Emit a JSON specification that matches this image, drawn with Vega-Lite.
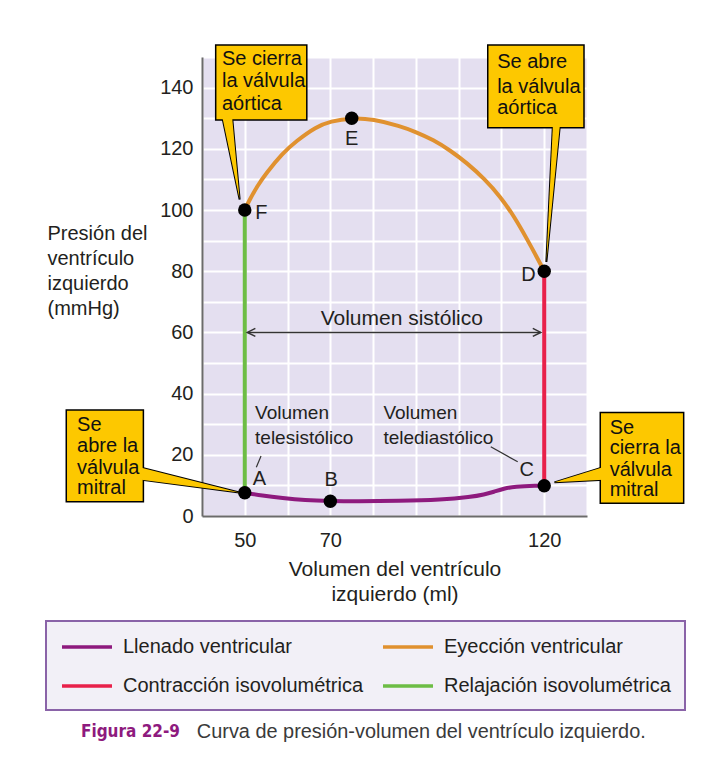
{
  "$schema": "https://vega.github.io/schema/vega-lite/v6.json",
  "width": 385,
  "height": 459,
  "autosize": "none",
  "padding": {"left": 202, "top": 57, "right": 123, "bottom": 247},
  "background": "#ffffff",
  "config": {
    "font": "Liberation Sans",
    "view": {"fill": "#e4dff0", "stroke": null},
    "axis": {
      "domainColor": "#6b6b6b",
      "domainWidth": 2,
      "gridColor": "#ffffff",
      "gridWidth": 2,
      "ticks": false,
      "tickSize": 0,
      "labelFont": "Liberation Sans",
      "labelFontSize": 20,
      "labelColor": "#231f20",
      "titleFont": "Liberation Sans",
      "titleFontWeight": "normal",
      "titleColor": "#231f20"
    }
  },
  "encoding": {
    "x": {
      "field": "x",
      "type": "quantitative",
      "scale": {"domain": [40, 130], "nice": false, "zero": false},
      "axis": {
        "values": [40, 50, 60, 70, 80, 90, 100, 110, 120, 130],
        "labelExpr": "datum.value == 50 || datum.value == 70 || datum.value == 120 ? datum.label : ''",
        "labelPadding": 14,
        "labelFlush": false,
        "labelOverlap": false,
        "title": ["Volumen del ventrículo", "izquierdo (ml)"],
        "titleFontSize": 21,
        "titleLineHeight": 25,
        "titleBaseline": "top",
        "titleY": 42
      }
    },
    "y": {
      "field": "y",
      "type": "quantitative",
      "scale": {"domain": [0, 150], "nice": false, "zero": false},
      "axis": {
        "values": [0, 10, 20, 30, 40, 50, 60, 70, 80, 90, 100, 110, 120, 130, 140, 150],
        "labelExpr": "datum.value % 20 == 0 && datum.value <= 140 ? datum.label : ''",
        "labelPadding": 9,
        "labelFlush": false,
        "labelOverlap": false,
        "title": ["Presión del", "ventrículo", "izquierdo", "(mmHg)"],
        "titleAngle": 0,
        "titleAlign": "left",
        "titleBaseline": "top",
        "titleFontSize": 20,
        "titleLineHeight": 25,
        "titleX": -155,
        "titleY": 166
      }
    }
  },
  "layer": [
    {
      "data": {"values": [
        {"phase": "Llenado ventricular", "o": 1, "x": 50, "y": 7.6},
        {"phase": "Llenado ventricular", "o": 2, "x": 54, "y": 6.7},
        {"phase": "Llenado ventricular", "o": 3, "x": 58.8, "y": 5.9},
        {"phase": "Llenado ventricular", "o": 4, "x": 64, "y": 5.2},
        {"phase": "Llenado ventricular", "o": 5, "x": 70, "y": 4.9},
        {"phase": "Llenado ventricular", "o": 6, "x": 76, "y": 4.8},
        {"phase": "Llenado ventricular", "o": 7, "x": 86, "y": 4.9},
        {"phase": "Llenado ventricular", "o": 8, "x": 96, "y": 5.3},
        {"phase": "Llenado ventricular", "o": 9, "x": 102.8, "y": 6.2},
        {"phase": "Llenado ventricular", "o": 10, "x": 106, "y": 7.0},
        {"phase": "Llenado ventricular", "o": 11, "x": 108.2, "y": 7.9},
        {"phase": "Llenado ventricular", "o": 12, "x": 110.6, "y": 9.0},
        {"phase": "Llenado ventricular", "o": 13, "x": 113, "y": 9.6},
        {"phase": "Llenado ventricular", "o": 14, "x": 118.5, "y": 9.9},
        {"phase": "Llenado ventricular", "o": 15, "x": 120, "y": 9.9},
        {"phase": "Eyección ventricular", "o": 1, "x": 50, "y": 100},
        {"phase": "Eyección ventricular", "o": 2, "x": 51, "y": 103},
        {"phase": "Eyección ventricular", "o": 3, "x": 53, "y": 108},
        {"phase": "Eyección ventricular", "o": 4, "x": 55, "y": 112},
        {"phase": "Eyección ventricular", "o": 5, "x": 58.8, "y": 118.5},
        {"phase": "Eyección ventricular", "o": 6, "x": 62, "y": 122.5},
        {"phase": "Eyección ventricular", "o": 7, "x": 66.7, "y": 127.2},
        {"phase": "Eyección ventricular", "o": 8, "x": 70, "y": 129.0},
        {"phase": "Eyección ventricular", "o": 9, "x": 75, "y": 130.1},
        {"phase": "Eyección ventricular", "o": 10, "x": 80, "y": 129.7},
        {"phase": "Eyección ventricular", "o": 11, "x": 86.3, "y": 127.4},
        {"phase": "Eyección ventricular", "o": 12, "x": 90, "y": 125.5},
        {"phase": "Eyección ventricular", "o": 13, "x": 94.1, "y": 122.9},
        {"phase": "Eyección ventricular", "o": 14, "x": 98, "y": 119.5},
        {"phase": "Eyección ventricular", "o": 15, "x": 102, "y": 115.3},
        {"phase": "Eyección ventricular", "o": 16, "x": 106, "y": 110.2},
        {"phase": "Eyección ventricular", "o": 17, "x": 109.8, "y": 104.3},
        {"phase": "Eyección ventricular", "o": 18, "x": 113, "y": 97.8},
        {"phase": "Eyección ventricular", "o": 19, "x": 116.1, "y": 90.2},
        {"phase": "Eyección ventricular", "o": 20, "x": 118, "y": 85.3},
        {"phase": "Eyección ventricular", "o": 21, "x": 120, "y": 80}
      ]},
      "mark": {"type": "line", "strokeWidth": 4, "interpolate": "basis"},
      "encoding": {
        "order": {"field": "o", "type": "quantitative"},
        "color": {
          "field": "phase",
          "type": "nominal",
          "scale": {
            "domain": ["Llenado ventricular", "Contracción isovolumétrica", "Eyección ventricular", "Relajación isovolumétrica"],
            "range": ["#8e1a7e", "#e8214a", "#e0912f", "#6dbd45"]
          },
          "legend": {
            "title": null,
            "orient": "none",
            "legendX": -156,
            "legendY": 564,
            "columns": 2,
            "columnPadding": 12,
            "rowPadding": 17,
            "padding": 14,
            "fillColor": "#f2f0f7",
            "strokeColor": "#8a63a8",
            "symbolType": "M-1,0L4,0",
            "symbolSize": 400,
            "symbolStrokeWidth": 3.5,
            "labelOffset": 39,
            "labelFont": "Liberation Sans",
            "labelFontSize": 20,
            "labelColor": "#231f20",
            "labelLimit": 400,
            "encode": {"legend": {"update": {"strokeWidth": {"value": 2}}}}
          }
        }
      }
    },
    {
      "data": {"values": [
        {"phase": "Contracción isovolumétrica", "o": 1, "x": 120, "y": 9.9},
        {"phase": "Contracción isovolumétrica", "o": 2, "x": 120, "y": 80},
        {"phase": "Relajación isovolumétrica", "o": 1, "x": 50, "y": 100},
        {"phase": "Relajación isovolumétrica", "o": 2, "x": 50, "y": 7.6}
      ]},
      "mark": {"type": "line", "strokeWidth": 4},
      "encoding": {
        "order": {"field": "o", "type": "quantitative"},
        "color": {"field": "phase", "type": "nominal"}
      }
    },
    {
      "data": {"values": [{"x": 50.6, "x2": 119.2, "y": 60}]},
      "mark": {"type": "rule", "color": "#333333", "strokeWidth": 1.5},
      "encoding": {"x2": {"field": "x2"}}
    },
    {
      "data": {"values": [{"x": 50.6, "y": 60}]},
      "mark": {"type": "point", "shape": "M2,-1L0,0L2,1", "filled": false, "color": "#333333", "strokeWidth": 1.5, "size": 64, "opacity": 1}
    },
    {
      "data": {"values": [{"x": 119.2, "y": 60}]},
      "mark": {"type": "point", "shape": "M-2,-1L0,0L-2,1", "filled": false, "color": "#333333", "strokeWidth": 1.5, "size": 64, "opacity": 1}
    },
    {
      "data": {"values": [{"t": "Volumen sistólico", "x": 86.7, "y": 64.3}]},
      "mark": {"type": "text", "align": "center", "baseline": "middle", "fontSize": 21, "color": "#231f20"},
      "encoding": {"text": {"field": "t"}}
    },
    {
      "data": {"values": [
        {"x": 53.8, "y": 19.6, "x2": 52.7, "y2": 15.9},
        {"x": 107.5, "y": 22.6, "x2": 113.8, "y2": 17.7}
      ]},
      "mark": {"type": "rule", "color": "#333333", "strokeWidth": 1.2},
      "encoding": {"x2": {"field": "x2"}, "y2": {"field": "y2"}}
    },
    {
      "data": {"values": [
        {"t": "Volumen", "x": 52.4, "y": 33.5},
        {"t": "telesistólico", "x": 52.4, "y": 25.4},
        {"t": "Volumen", "x": 82.4, "y": 33.5},
        {"t": "telediastólico", "x": 82.4, "y": 25.4}
      ]},
      "mark": {"type": "text", "align": "left", "baseline": "middle", "fontSize": 19, "color": "#231f20"},
      "encoding": {"text": {"field": "t"}}
    },
    {
      "data": {"values": [
        {"p": "A", "x": 50, "y": 7.6},
        {"p": "B", "x": 70, "y": 4.8},
        {"p": "C", "x": 120, "y": 9.9},
        {"p": "D", "x": 120, "y": 80},
        {"p": "E", "x": 75, "y": 130},
        {"p": "F", "x": 50, "y": 100}
      ]},
      "mark": {"type": "point", "shape": "circle", "filled": true, "color": "#000000", "size": 180, "opacity": 1}
    },
    {
      "data": {"values": [
        {"t": "A", "x": 53.4, "y": 12.1},
        {"t": "B", "x": 70.2, "y": 11.8},
        {"t": "C", "x": 115.9, "y": 15.0},
        {"t": "D", "x": 116.3, "y": 78.8},
        {"t": "E", "x": 75, "y": 123.2},
        {"t": "F", "x": 53.9, "y": 98.9}
      ]},
      "mark": {"type": "text", "align": "center", "baseline": "middle", "fontSize": 20, "color": "#231f20"},
      "encoding": {"text": {"field": "t"}}
    },
    {
      "data": {"values": [
        {"p": "p1", "y": 132, "x": 44.5, "x2": 46.93},
        {"p": "p1", "y": 103.4, "x": 48.8, "x2": 48.8},
        {"p": "p2", "y": 129, "x": 122.07, "x2": 123.75},
        {"p": "p2", "y": 83, "x": 120.5, "x2": 120.5}
      ]},
      "mark": {"type": "area", "orient": "horizontal", "fill": "#fdc800", "stroke": "#000000", "strokeWidth": 2, "opacity": 1},
      "encoding": {"x2": {"field": "x2"}, "detail": {"field": "p"}}
    },
    {
      "data": {"values": [
        {"p": "p3", "x": 24, "y": 16.4, "y2": 12.2},
        {"p": "p3", "x": 48.7, "y": 7.7, "y2": 7.7},
        {"p": "p4", "x": 122.4, "y": 11, "y2": 11},
        {"p": "p4", "x": 135, "y": 16.5, "y2": 11.94}
      ]},
      "mark": {"type": "area", "orient": "vertical", "fill": "#fdc800", "stroke": "#000000", "strokeWidth": 2, "opacity": 1},
      "encoding": {"y2": {"field": "y2"}, "detail": {"field": "p"}}
    },
    {
      "data": {"values": [
        {"b": "1", "x": 43.2, "x2": 64.5, "y": 129.4, "y2": 153.9},
        {"b": "2", "x": 106.8, "x2": 129.3, "y": 126.9, "y2": 153.9},
        {"b": "3", "x": 8.27, "x2": 26.3, "y": 4.67, "y2": 34.6},
        {"b": "4", "x": 133.1, "x2": 152.6, "y": 4.15, "y2": 33.8}
      ]},
      "mark": {"type": "rect", "fill": "#fdc800", "stroke": "#000000", "strokeWidth": 1.5, "opacity": 1},
      "encoding": {"x2": {"field": "x2"}, "y2": {"field": "y2"}}
    },
    {
      "data": {"values": [
        {"p": "p1", "y": 132, "x": 44.5, "x2": 46.93},
        {"p": "p1", "y": 103.4, "x": 48.8, "x2": 48.8},
        {"p": "p2", "y": 129, "x": 122.07, "x2": 123.75},
        {"p": "p2", "y": 83, "x": 120.5, "x2": 120.5}
      ]},
      "mark": {"type": "area", "orient": "horizontal", "fill": "#fdc800", "opacity": 1},
      "encoding": {"x2": {"field": "x2"}, "detail": {"field": "p"}}
    },
    {
      "data": {"values": [
        {"p": "p3", "x": 24, "y": 16.4, "y2": 12.2},
        {"p": "p3", "x": 48.7, "y": 7.7, "y2": 7.7},
        {"p": "p4", "x": 122.4, "y": 11, "y2": 11},
        {"p": "p4", "x": 135, "y": 16.5, "y2": 11.94}
      ]},
      "mark": {"type": "area", "orient": "vertical", "fill": "#fdc800", "opacity": 1},
      "encoding": {"y2": {"field": "y2"}, "detail": {"field": "p"}}
    },
    {
      "data": {"values": [
        {"t": "Se cierra", "x": 44.66, "y": 149.2},
        {"t": "la válvula", "x": 44.66, "y": 142.1},
        {"t": "aórtica", "x": 44.66, "y": 134.7},
        {"t": "Se abre", "x": 109.0, "y": 148.5},
        {"t": "la válvula", "x": 109.0, "y": 140.3},
        {"t": "aórtica", "x": 109.0, "y": 133.2},
        {"t": "Se", "x": 10.79, "y": 29.9},
        {"t": "abre la", "x": 10.79, "y": 22.8},
        {"t": "válvula", "x": 10.79, "y": 15.6},
        {"t": "mitral", "x": 10.79, "y": 9.05},
        {"t": "Se", "x": 135.3, "y": 28.9},
        {"t": "cierra la", "x": 135.3, "y": 22.1},
        {"t": "válvula", "x": 135.3, "y": 15.1},
        {"t": "mitral", "x": 135.3, "y": 8.5}
      ]},
      "mark": {"type": "text", "align": "left", "baseline": "middle", "fontSize": 20, "color": "#111111"},
      "encoding": {"text": {"field": "t"}}
    },
    {
      "data": {"values": [{"t": "Figura 22-9", "x": 11.7, "y": -70.6}]},
      "mark": {"type": "text", "align": "left", "baseline": "middle", "fontSize": 17, "fontWeight": "bold", "font": "Liberation Sans Narrow, DejaVu Sans Condensed, Liberation Sans", "color": "#8e1a7e"},
      "encoding": {"text": {"field": "t"}}
    },
    {
      "data": {"values": [{"t": "Curva de presión-volumen del ventrículo izquierdo.", "x": 38.8, "y": -70.6}]},
      "mark": {"type": "text", "align": "left", "baseline": "middle", "fontSize": 19.9, "color": "#3a3a3a"},
      "encoding": {"text": {"field": "t"}}
    }
  ]
}
